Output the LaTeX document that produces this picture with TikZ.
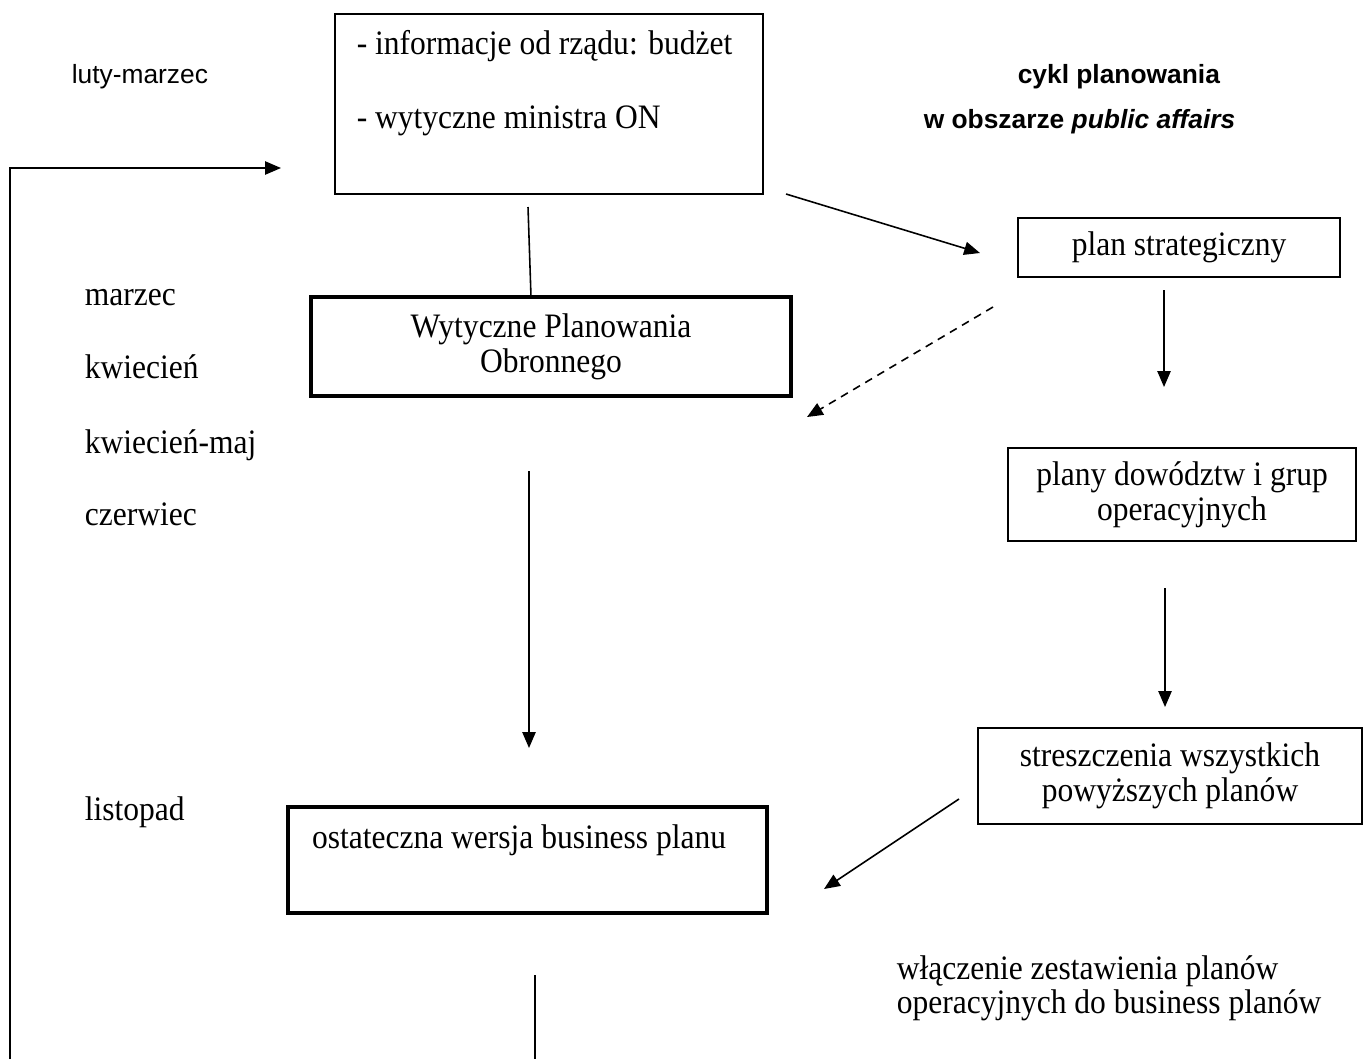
\documentclass[tikz,border=0pt]{standalone}
\usepackage{fontspec}
\setmainfont[FakeStretch=0.92]{Liberation Serif}
\setsansfont{Liberation Sans}
\usetikzlibrary{arrows.meta}

\begin{document}
\begin{tikzpicture}[x=0.02cm, y=-0.02cm, line width=0.9pt,
	every node/.style={font=\fontsize{19.5pt}{20pt}\selectfont},
	box/.style={draw, align=center, inner sep=0pt},
	thickbox/.style={box, line width=1.8pt},
	txt/.style={anchor=base west, inner sep=0pt},
	sans/.style={txt, font=\sffamily\fontsize{15pt}{18pt}\selectfont},
	arr/.style={-{Triangle[length=9pt,width=7.5pt]}}]
	\useasboundingbox (0,0) rectangle (1364,1059);
	\node[box, minimum width=8.56cm, minimum height=3.6cm] (info) at (549,104) {};
	\node[txt] (budzet) at (356,54) {- informacje od rządu: budżet};
	\node[txt] (minister) at (356,128) {- wytyczne ministra ON};
	\node[sans] (luty) at (71,83) {luty-marzec};
	\node[sans] (cykl) at (1017,83) {\textbf{cykl planowania}};
	\node[sans] (obszar) at (923,128) {\textbf{w obszarze \textit{public affairs}}};
	\node[thickbox, minimum width=9.6cm, minimum height=1.98cm] (wpo) at (551,346.5) {Wytyczne Planowania\\Obronnego};
	\node[box, minimum width=6.44cm, minimum height=1.18cm] (strat) at (1179,247.5) {plan strategiczny};
	\node[box, minimum width=6.96cm, minimum height=1.86cm] (dowodztw) at (1182,494.5) {plany dowództw i grup\\operacyjnych};
	\node[box, minimum width=7.68cm, minimum height=1.92cm] (stresz) at (1170,776) {streszczenia wszystkich\\powyższych planów};
	\node[thickbox, minimum width=9.58cm, minimum height=2.12cm] (final) at (527.5,860) {};
	\node[anchor=base, inner sep=0pt] (finaltxt) at (519,848) {ostateczna wersja business planu};
	\node[txt] (marzec) at (84,305) {marzec};
	\node[txt] (kwiecien) at (84,378) {kwiecień};
	\node[txt] (kwmaj) at (84,453) {kwiecień-maj};
	\node[txt] (czerwiec) at (84,525) {czerwiec};
	\node[txt] (listopad) at (84,820) {listopad};
	\node[txt] (wlacz1) at (896,979) {włączenie zestawienia planów};
	\node[txt] (wlacz2) at (896,1013) {operacyjnych do business planów};
	\coordinate (back) at (10,1059);
	\coordinate (backtip) at (281,168);
	\coordinate (infobot) at (528,207);
	\coordinate (wpotop) at (531,297);
	\coordinate (infoout) at (786,194);
	\coordinate (stratin) at (980,253);
	\coordinate (stratout) at (1164,290);
	\coordinate (stratend) at (1164,387);
	\coordinate (dashout) at (993,307);
	\coordinate (dashend) at (807,417);
	\coordinate (wpoout) at (529,471);
	\coordinate (finalin) at (529,748);
	\coordinate (dowout) at (1165,588);
	\coordinate (dowend) at (1165,707);
	\coordinate (streszout) at (959,799);
	\coordinate (streszend) at (824,889);
	\coordinate (finalout) at (535,975);
	\coordinate (finalend) at (535,1059);
	\draw[arr] (back) |- (backtip);
	\draw (infobot) -- (wpotop);
	\draw[arr] (infoout) -- (stratin);
	\draw[arr] (stratout) -- (stratend);
	\draw[arr, dash pattern=on 4.5pt off 3.5pt] (dashout) -- (dashend);
	\draw[arr] (wpoout) -- (finalin);
	\draw[arr] (dowout) -- (dowend);
	\draw[arr] (streszout) -- (streszend);
	\draw (finalout) -- (finalend);
\end{tikzpicture}
\end{document}
